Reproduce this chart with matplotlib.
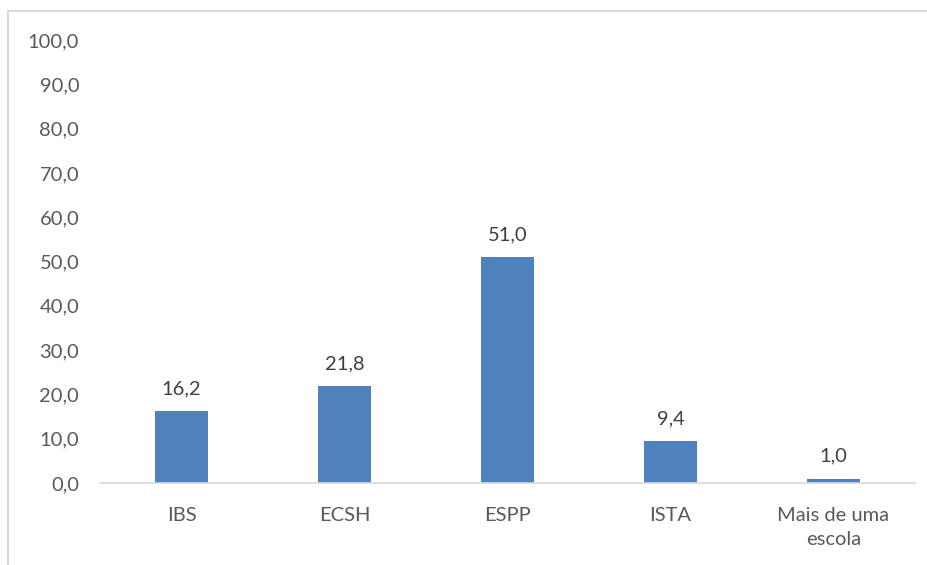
import matplotlib
matplotlib.use("Agg")
import matplotlib.pyplot as plt
from matplotlib.patches import Rectangle

categories = ["IBS", "ECSH", "ESPP", "ISTA", "Mais de uma\nescola"]
values = [16.2, 21.8, 51.0, 9.4, 1.0]
yticks = [0, 10, 20, 30, 40, 50, 60, 70, 80, 90, 100]

bar_color = "#4F81BD"
text_color = "#595959"
plt.rcParams['font.family'] = ['Lato', 'DejaVu Sans']

W, H = 928, 565
fig = plt.figure(figsize=(W/100, H/100), dpi=100)
ax = fig.add_axes([100/W, 1-483/H, 815/W, 443/H])

x = list(range(len(categories)))
bars = ax.bar(x, values, width=0.32, color=bar_color, zorder=2)
ax.set_xlim(-0.5, len(categories)-0.5)
ax.set_ylim(0, 100)
ax.set_yticks(yticks)
ax.set_yticklabels([f"{v:.1f}".replace(".", ",") for v in yticks])
ax.set_xticks(x)
ax.set_xticklabels(categories, linespacing=1.55)
ax.tick_params(axis='y', length=0, pad=15, labelsize=14.5, labelcolor=text_color)
ax.tick_params(axis='x', length=0, pad=17, labelsize=14.5, labelcolor=text_color)
for s in ['top', 'right', 'left']:
    ax.spines[s].set_visible(False)
ax.spines['bottom'].set_color('#D9D9D9')
ax.spines['bottom'].set_linewidth(1.2)

for xi, v in zip(x, values):
    ax.annotate(f"{v:.1f}".replace(".", ","), (xi, v), xytext=(0, 10),
                textcoords='offset points', ha='center', va='bottom',
                fontsize=14.5, color='#404040')

fig.patches.append(Rectangle((8/W, -0.1), 1.2, 1.1 - 11/H + 0.0, transform=fig.transFigure,
                             fill=False, edgecolor='#D9D9D9', linewidth=1.5))
fig.savefig("out.png", dpi=100)
